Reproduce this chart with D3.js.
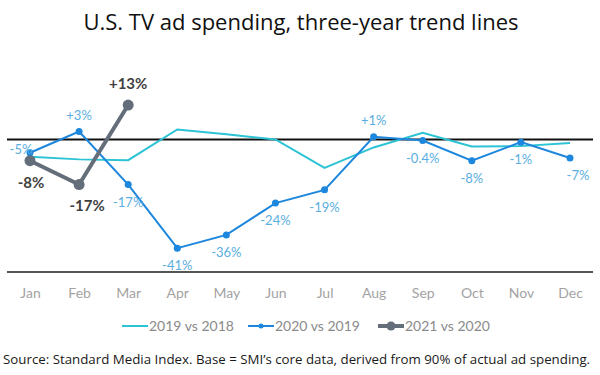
<!DOCTYPE html>
<html>
<head>
<meta charset="utf-8">
<script src="https://cdn.jsdelivr.net/npm/d3@7"></script>
<style>
  html, body { margin: 0; padding: 0; background: #fff; }
  svg { display: block; }
</style>
</head>
<body>
<svg id="chart" width="600" height="375"></svg>
<script>
const months = ["Jan","Feb","Mar","Apr","May","Jun","Jul","Aug","Sep","Oct","Nov","Dec"];
const series2019 = [-6.5, -7.5, -7.8, 3.8, 2, 0, -10.7, -3, 2.5, -2.6, -2.5, -1.3];
const series2020 = [-5, 3, -17, -41, -36, -24, -19, 1, -0.4, -8, -1, -7];
const series2021 = [-8, -17, 13];
const legendNames = ["2019 vs 2018", "2020 vs 2019", "2021 vs 2020"];
const titleText = "U.S. TV ad spending, three-year trend lines";
const sourceText = "Source: Standard Media Index. Base = SMI\u2019s core data, derived from 90% of actual ad spending.";

const svg = d3.select("#chart");
const font = "Lato, 'Open Sans', sans-serif";

const x = d3.scalePoint().domain(months).range([30, 570]);
const y = d3.scaleLinear().domain([-50, 20]).range([272, 86.5]);

const colTeal = "#2cc3d4", colBlue = "#1d87dd", colGray = "#646d7a";
const fmt = v => (v > 0 ? "+" : "") + v + "%";

// title
svg.append("text").attr("x", 301).attr("y", 30).attr("text-anchor", "middle")
  .attr("font-family", "'Open Sans', sans-serif").attr("font-size", 22).attr("fill", "#111")
  .text(titleText);

// bottom line and zero line
svg.append("line").attr("x1", 7).attr("x2", 593).attr("y1", y(-50)).attr("y2", y(-50))
  .attr("stroke", "#555").attr("stroke-width", 2);
svg.append("line").attr("x1", 7).attr("x2", 593).attr("y1", y(0)).attr("y2", y(0))
  .attr("stroke", "#111").attr("stroke-width", 2);

// x axis labels
const ax = svg.append("g").attr("transform", `translate(0,${y(-50) + 8})`)
  .call(d3.axisBottom(x).tickSize(0).tickPadding(8));
ax.select(".domain").remove();
ax.selectAll("text").attr("font-family", font).attr("font-size", 14).attr("fill", "#a3a3a3");

const line = d3.line().x((d, i) => x(months[i])).y(d => y(d));

// 2019 vs 2018
svg.append("path").datum(series2019).attr("d", line).attr("fill", "none")
  .attr("stroke", colTeal).attr("stroke-width", 2);

// 2020 vs 2019
svg.append("path").datum(series2020).attr("d", line).attr("fill", "none")
  .attr("stroke", colBlue).attr("stroke-width", 2);
svg.append("g").selectAll("circle").data(series2020).join("circle")
  .attr("cx", (d, i) => x(months[i])).attr("cy", d => y(d)).attr("r", 3.5).attr("fill", colBlue);

// 2021 vs 2020
svg.append("path").datum(series2021).attr("d", line).attr("fill", "none")
  .attr("stroke", colGray).attr("stroke-width", 4).attr("stroke-linejoin", "round");
svg.append("g").selectAll("circle").data(series2021).join("circle")
  .attr("cx", (d, i) => x(months[i])).attr("cy", d => y(d)).attr("r", 5.5).attr("fill", colGray);

// 2020 labels
const pos2020 = ["left","above","below","below","below","below","below","above","below","below","below","below"];
svg.append("g").selectAll("text").data(series2020).join("text")
  .attr("x", (d, i) => x(months[i]) + (pos2020[i] === "left" ? -9 : (i === 11 ? 8 : 0)))
  .attr("y", (d, i) => y(d) + (pos2020[i] === "above" ? -12 : pos2020[i] === "left" ? 1 : 22))
  .attr("text-anchor", "middle").attr("font-family", font).attr("font-size", 13)
  .attr("fill", "#5aaee0").text(d => fmt(d));

// 2021 labels
const pos2021 = [[1, 27], [8, 26], [0, -16]];
svg.append("g").selectAll("text").data(series2021).join("text")
  .attr("x", (d, i) => x(months[i]) + pos2021[i][0])
  .attr("y", (d, i) => y(d) + pos2021[i][1])
  .attr("text-anchor", "middle").attr("font-family", font).attr("font-size", 15)
  .attr("font-weight", "bold").attr("fill", "#3f3f3f").text(d => fmt(d));

// legend
const legendX = [122, 248, 378];
const lg = svg.append("g");
legendNames.forEach((name, i) => {
  const g = lg.append("g").attr("transform", `translate(${legendX[i]},326)`);
  const col = [colTeal, colBlue, colGray][i];
  g.append("line").attr("x1", 0).attr("x2", 26).attr("y1", 0).attr("y2", 0)
    .attr("stroke", col).attr("stroke-width", i === 2 ? 4 : 2);
  if (i > 0) g.append("circle").attr("cx", 13).attr("cy", 0).attr("r", i === 2 ? 4.5 : 2.5).attr("fill", col);
  g.append("text").attr("x", 27).attr("y", 5).attr("font-family", font).attr("font-size", 14)
    .attr("fill", "#8a8a8a").text(name);
});

// source
svg.append("text").attr("x", 3).attr("y", 364).attr("font-family", "'Open Sans', sans-serif")
  .attr("font-size", 13.3).attr("fill", "#1a1a1a").text(sourceText);
</script>
</body>
</html>
